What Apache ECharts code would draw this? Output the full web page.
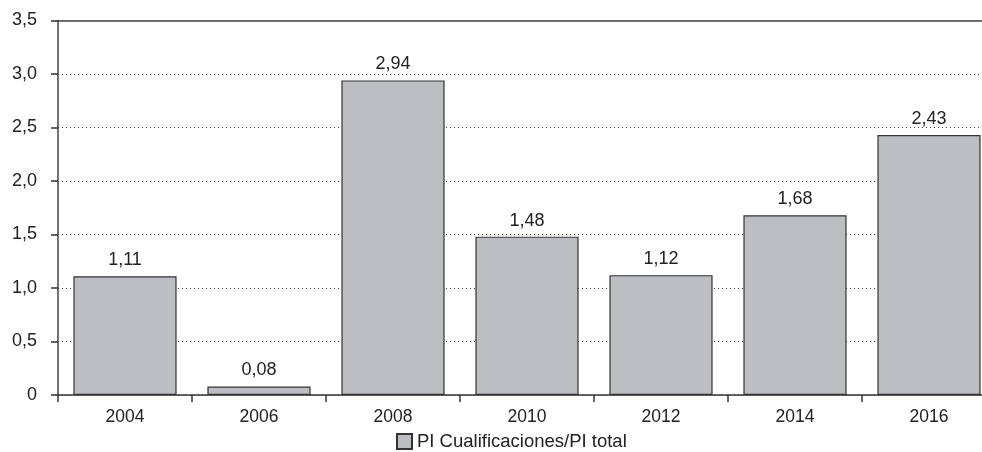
<!DOCTYPE html>
<html>
<head>
<meta charset="utf-8">
<script src="https://cdn.jsdelivr.net/npm/echarts@6/dist/echarts.min.js"></script>
<style>
  html, body { margin: 0; padding: 0; background: #fff; }
  #chart { width: 982px; height: 452px; }
</style>
</head>
<body>
<div id="chart"></div>
<script>
const years = ['2004', '2006', '2008', '2010', '2012', '2014', '2016'];
const ratio = [1.11, 0.08, 2.94, 1.48, 1.12, 1.68, 2.43];
const seriesName = 'PI Cualificaciones/PI total';

const comma = (v, d) => v.toFixed(d).replace('.', ',');
const font = 'Liberation Sans, Arial, sans-serif';

const chart = echarts.init(document.getElementById('chart'));
chart.setOption({
  animation: false,
  // the category band runs slightly past the right edge of the canvas
  grid: { left: 58, width: 938, top: 20.5, bottom: 57, containLabel: false, outerBoundsMode: 'none' },
  legend: {
    top: 427,
    left: 391,
    itemWidth: 15,
    itemHeight: 15,
    itemGap: 2,
    icon: 'rect',
    textStyle: { fontFamily: font, fontSize: 18.5, color: '#222' },
    data: [seriesName]
  },
  xAxis: [{
    type: 'category',
    data: years,
    boundaryGap: true,
    axisLine: { lineStyle: { color: '#333', width: 1.5 } },
    axisTick: { show: true, length: 7, lineStyle: { color: '#333', width: 1.5 } },
    axisLabel: { fontFamily: font, fontSize: 17.5, color: '#222', margin: 13 }
  }, {
    type: 'category',
    position: 'top',
    data: years,
    axisLine: { show: true, onZero: false, lineStyle: { color: '#444', width: 1.5 } },
    axisTick: { show: false },
    axisLabel: { show: false }
  }],
  yAxis: {
    type: 'value',
    min: 0,
    max: 3.5,
    interval: 0.5,
    axisLine: { show: true, lineStyle: { color: '#444', width: 1.5 } },
    axisTick: { show: true, length: 7, lineStyle: { color: '#333', width: 1.5 } },
    axisLabel: {
      fontFamily: font, fontSize: 18, color: '#222', margin: 21,
      formatter: v => v === 0 ? '0' : comma(v, 1)
    },
    splitLine: { show: true, lineStyle: { color: '#444', type: [1, 3], width: 1 } }
  },
  series: [{
    name: seriesName,
    type: 'bar',
    data: ratio,
    barCategoryGap: '23%',
    itemStyle: { color: '#bdbec2', borderColor: '#333', borderWidth: 1.2 },
    label: {
      show: true,
      position: 'top',
      distance: 7,
      fontFamily: font,
      fontSize: 18,
      color: '#222',
      formatter: p => comma(p.value, 2)
    }
  }]
});
</script>
</body>
</html>
